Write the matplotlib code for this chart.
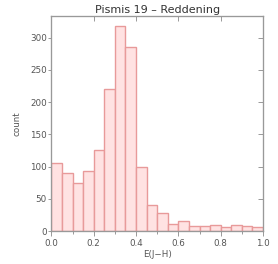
import matplotlib
matplotlib.use("Agg")
import matplotlib.pyplot as plt
from matplotlib.ticker import MultipleLocator, FormatStrFormatter

bin_edges = [round(0.05 * i, 2) for i in range(21)]
counts = [105, 90, 75, 93, 126, 221, 318, 285, 100, 41, 28, 12, 16, 8, 8, 9, 7, 9, 8, 6]
title = "Pismis 19 \u2013 Reddening"
xlabel = "E(J\u2212H)"
ylabel = "count"

fig = plt.figure(figsize=(2.78, 2.64), dpi=100)
ax = fig.add_axes([0.185, 0.124, 0.761, 0.8165])

txt = "#555555"
spine = "#999999"
lefts = bin_edges[:-1]
widths = [bin_edges[i + 1] - bin_edges[i] for i in range(len(lefts))]
ax.bar(lefts, counts, width=widths, align="edge", color="#ffe2e2",
       edgecolor="#e89a9a", linewidth=1.0)

ax.set_xlim(0, 1)
ax.set_ylim(0, 334)
ax.xaxis.set_major_locator(MultipleLocator(0.2))
ax.xaxis.set_minor_locator(MultipleLocator(0.1))
ax.yaxis.set_major_locator(MultipleLocator(50))
ax.xaxis.set_major_formatter(FormatStrFormatter("%.1f"))

for s in ax.spines.values():
    s.set_color(spine)
    s.set_linewidth(0.8)

ax.tick_params(axis="both", which="both", colors=spine, labelcolor=txt,
               labelsize=6.3, width=0.7)
ax.tick_params(axis="x", which="major", length=3.6, direction="out", pad=2, top=False)
ax.tick_params(axis="x", which="minor", length=1.8, direction="out", top=False)
ax.tick_params(axis="y", which="major", length=2.4, direction="out", pad=1, right=False)

ax2 = ax.twiny()
ax2.set_xlim(ax.get_xlim())
ax2.xaxis.set_major_locator(MultipleLocator(0.2))
ax2.tick_params(axis="x", direction="in", length=3.6, colors=spine, labeltop=False, width=0.7)
ax3 = ax.twinx()
ax3.set_ylim(ax.get_ylim())
ax3.yaxis.set_major_locator(MultipleLocator(50))
ax3.tick_params(axis="y", direction="in", length=3.6, colors=spine, labelright=False, width=0.7)
for a in (ax2, ax3):
    for s in a.spines.values():
        s.set_color(spine)
        s.set_linewidth(0.8)

ax.set_title(title, fontsize=8, color="#333333", pad=2)
ax.set_xlabel(xlabel, fontsize=6.3, color=txt, labelpad=1.5)
ax.set_ylabel(ylabel, fontsize=6.3, color=txt, labelpad=6)

fig.savefig("out.png", dpi=100)
